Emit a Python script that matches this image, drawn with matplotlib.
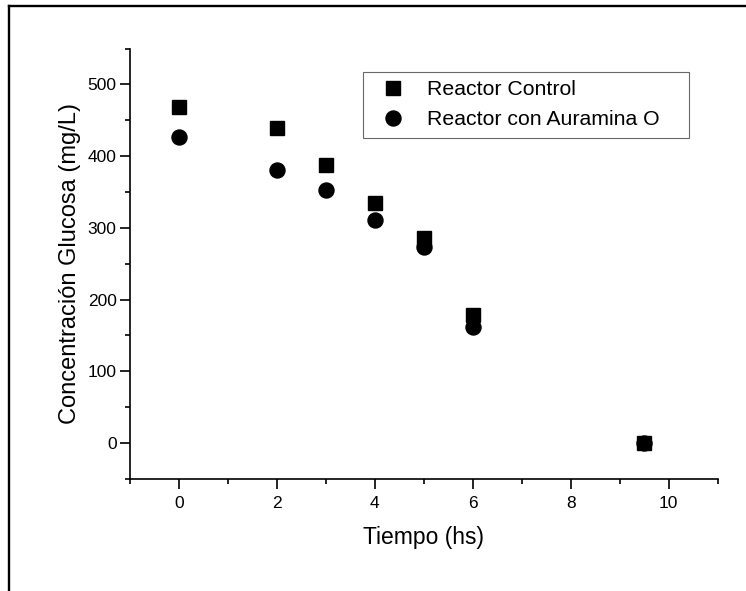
import matplotlib
matplotlib.use("Agg")
import matplotlib.pyplot as plt
from matplotlib.lines import Line2D
from matplotlib.ticker import MultipleLocator

plt.rcParams["font.family"] = ["Liberation Sans", "DejaVu Sans"]

# data
tiempo = [0, 2, 3, 4, 5, 6, 9.5]
control = [469, 439, 387, 335, 286, 178, 0]
auramina = [427, 381, 353, 311, 273, 162, 0]

fig = plt.figure(figsize=(7.46, 5.91), dpi=100)
ax = fig.add_axes([0.1739, 0.1897, 0.7882, 0.7281])

ax.plot(tiempo, control, linestyle="none", marker="s", markersize=9.6,
        color="black", label="Reactor Control")
ax.plot(tiempo, auramina, linestyle="none", marker="o", markersize=10.8,
        color="black", label="Reactor con Auramina O")

ax.set_xlim(-1, 11)
ax.set_ylim(-50, 550)
ax.xaxis.set_major_locator(MultipleLocator(2))
ax.xaxis.set_minor_locator(MultipleLocator(1))
ax.yaxis.set_major_locator(MultipleLocator(100))
ax.yaxis.set_minor_locator(MultipleLocator(50))

for s in ["top", "right"]:
    ax.spines[s].set_visible(False)
for s in ["left", "bottom"]:
    ax.spines[s].set_linewidth(1.2)

ax.tick_params(which="major", direction="out", length=7, width=1.2, labelsize=12.5)
ax.tick_params(which="minor", direction="out", length=3.6, width=1.2)
ax.tick_params(axis="y", which="major", pad=2.5)
ax.tick_params(axis="x", which="major", pad=5)

ax.set_xlabel("Tiempo (hs)", fontsize=16.5, labelpad=11)
ax.set_ylabel("Concentración Glucosa (mg/L)", fontsize=17, labelpad=5)

leg = ax.legend(loc="upper left", bbox_to_anchor=(0.397, 0.792, 0.554, 0.1536),
                mode="expand", borderaxespad=0, fontsize=15.3, frameon=True,
                fancybox=False, edgecolor="#444444", borderpad=0.4,
                labelspacing=0.5, handlelength=2.0, handletextpad=0.6)
leg.get_frame().set_linewidth(0.8)

# outer frame of the original page (only top and left edges visible)
fig.add_artist(Line2D([9 / 746, 1.0], [1 - 6 / 591, 1 - 6 / 591],
                      transform=fig.transFigure, color="black", linewidth=1.7))
fig.add_artist(Line2D([9 / 746, 9 / 746], [0.0, 1 - 6 / 591],
                      transform=fig.transFigure, color="black", linewidth=1.7))

fig.savefig("out.png", dpi=100)
